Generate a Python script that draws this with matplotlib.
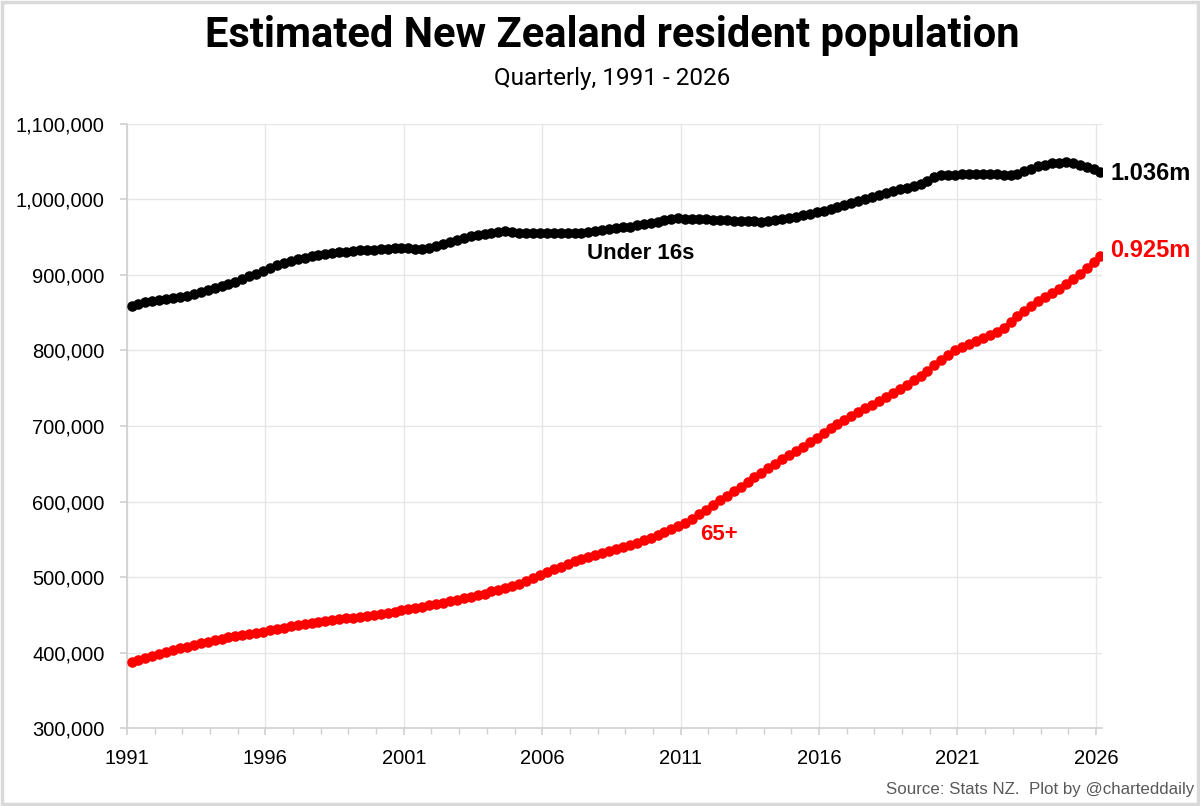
import numpy as np
import pandas as pd
import matplotlib
matplotlib.use("Agg")
import matplotlib.pyplot as plt
from matplotlib.patches import Rectangle
from matplotlib.ticker import FuncFormatter, MultipleLocator

# ---------------- data (thousands, quarterly Mar 1991 - Mar 2026) ----------------
quarters = pd.date_range("1991-03-01", "2026-03-01", freq="3MS")

under16 = [
    859.3, 861.5, 863.5, 865.5,
    867.0, 868.5, 869.8, 871.0,
    872.5, 874.5, 877.0, 879.5,
    882.3, 885.0, 888.0, 891.0,
    894.5, 898.0, 901.5, 905.0,
    909.0, 912.5, 915.5, 918.0,
    920.5, 922.5, 924.5, 926.0,
    927.5, 929.0, 930.0, 930.8,
    931.5, 932.3, 932.8, 933.3,
    934.0, 934.8, 935.5, 936.0,
    935.5, 934.5, 934.0, 935.5,
    938.0, 941.0, 943.5, 946.0,
    949.0, 951.5, 953.0, 954.5,
    955.8, 956.8, 957.5, 957.0,
    956.0, 955.5, 955.5, 955.3,
    955.0, 955.0, 955.0, 955.2,
    955.5, 956.0, 957.0, 958.0,
    959.0, 960.3, 961.5, 962.8,
    964.0, 965.5, 967.0, 968.3,
    970.0, 972.0, 974.0, 975.0,
    974.5, 974.4, 974.0, 973.5,
    973.0, 972.5, 972.0, 971.7,
    971.5, 971.7, 971.0, 970.5,
    971.0, 972.5, 974.0, 975.5,
    977.0, 979.0, 981.0, 983.0,
    985.0, 987.5, 990.0, 992.5,
    995.5, 998.0, 1000.5, 1003.0,
    1005.5, 1008.0, 1010.5, 1013.0,
    1014.5, 1017.0, 1020.0, 1024.0,
    1030.0, 1032.0, 1032.3, 1032.5,
    1033.0, 1033.2, 1033.0, 1033.3,
    1033.5, 1033.0, 1032.3, 1032.0,
    1033.5, 1037.0, 1040.5, 1044.0,
    1046.0, 1047.5, 1048.3, 1048.8,
    1047.5, 1045.5, 1042.5, 1039.5,
    1036.0,
]

over65 = [
    388.5, 391.0, 393.5, 396.0,
    398.5, 401.0, 403.5, 406.0,
    408.3, 410.5, 412.5, 414.5,
    416.5, 418.5, 420.5, 422.0,
    423.5, 425.0, 426.5, 428.0,
    429.8, 431.5, 433.5, 435.0,
    436.5, 438.0, 439.5, 440.8,
    442.0, 443.3, 444.5, 445.5,
    446.7, 447.9, 449.2, 450.5,
    451.8, 453.2, 454.7, 456.2,
    458.3, 459.8, 461.3, 462.8,
    464.3, 466.3, 468.5, 470.5,
    472.5, 474.5, 476.5, 478.5,
    481.3, 483.5, 485.5, 488.0,
    491.5, 495.0, 499.0, 503.0,
    507.5, 511.0, 514.0, 517.5,
    521.0, 524.0, 527.0, 529.5,
    532.0, 534.5, 537.0, 539.5,
    542.5, 545.5, 549.0, 552.0,
    556.0, 559.5, 563.5, 567.5,
    572.0, 577.5, 583.5, 589.5,
    596.0, 602.0, 608.0, 614.0,
    620.0, 626.0, 632.0, 638.0,
    644.0, 650.0, 656.0, 662.0,
    667.5, 673.0, 678.5, 684.0,
    691.0, 697.0, 702.5, 708.0,
    713.5, 718.5, 723.5, 728.5,
    733.5, 738.5, 744.0, 749.5,
    755.0, 760.5, 766.0, 773.0,
    781.0, 788.0, 794.0, 800.0,
    804.0, 808.0, 812.0, 816.0,
    820.0, 824.5, 830.0, 838.0,
    845.0, 852.0, 859.0, 865.5,
    870.5, 876.0, 882.0, 888.5,
    894.5, 901.5, 909.0, 917.0,
    925.0,
]

series_names = ["Under 16s", "65+"]
end_labels = ["1.036m", "0.925m"]
year_ticks = [1991, 1996, 2001, 2006, 2011, 2016, 2021, 2026]
title = "Estimated New Zealand resident population"
subtitle = "Quarterly, 1991 - 2026"
source = "Source: Stats NZ.  Plot by @charteddaily"

# ---------------- plotting ----------------
x = quarters.year + (quarters.month - 1) / 12.0
y16 = np.array(under16) * 1000
y65 = np.array(over65) * 1000

plt.rcParams["font.family"] = ["Liberation Sans", "DejaVu Sans"]

fig = plt.figure(figsize=(12, 8.06), dpi=100)
ax = fig.add_axes([0.1058, 0.0962, 0.8125, 0.7503])

ax.plot(x, y16, color="black", lw=2.6, marker="o", ms=7.6, mew=0, zorder=3)
ax.plot(x, y65, color="#FF0000", lw=2.6, marker="o", ms=7.6, mew=0, zorder=3)

ax.set_xlim(1991, 2026.22)
ax.set_ylim(300000, 1100000)
ax.set_xticks(year_ticks)
ax.set_xticklabels([str(t) for t in year_ticks])
ax.xaxis.set_minor_locator(MultipleLocator(1))
ax.yaxis.set_major_locator(MultipleLocator(100000))
ax.yaxis.set_major_formatter(FuncFormatter(lambda v, p: f"{int(v):,}"))

ax.grid(True, which="major", color="#E6E6E6", lw=1.0, zorder=0)
ax.set_axisbelow(True)
for s in ["top", "right"]:
    ax.spines[s].set_visible(False)
for s in ["left", "bottom"]:
    ax.spines[s].set_color("#D0D0D0")
    ax.spines[s].set_linewidth(1.2)

ax.tick_params(axis="y", which="major", length=5, width=1.2, color="#D0D0D0",
               labelsize=14.5, pad=11, labelcolor="black")
ax.tick_params(axis="x", which="major", length=5, width=1.2, color="#D0D0D0",
               labelsize=14.5, pad=10, labelcolor="black")
ax.tick_params(axis="x", which="minor", length=4, width=1.0, color="#D0D0D0")

# in-chart labels
ax.text(2009.55, 920900, series_names[0], ha="center", va="baseline",
        fontsize=16, fontweight="bold", color="black")
ax.text(2012.37, 549500, series_names[1], ha="center", va="baseline",
        fontsize=16, fontweight="bold", color="#FF0000")
ax.text(2026.52, 1025500, end_labels[0], ha="left", va="baseline",
        fontsize=17, fontweight="bold", color="black", clip_on=False)
ax.text(2026.52, 923600, end_labels[1], ha="left", va="baseline",
        fontsize=17, fontweight="bold", color="#FF0000", clip_on=False)

# titles
fig.text(0.510, 0.956, title, ha="center", va="center", fontsize=30,
         fontweight="bold", family=["Roboto", "DejaVu Sans"])
fig.text(0.510, 0.903, subtitle, ha="center", va="center", fontsize=17.5,
         family=["Roboto", "DejaVu Sans"])
fig.text(0.995, 0.0145, source, ha="right", va="baseline", fontsize=12.2,
         color="#595959")

fig.patches.append(Rectangle((0.0015, 0.002), 0.997, 0.996, transform=fig.transFigure,
                             fill=False, ec="#D9D9D9", lw=2.5))

fig.savefig("out.png", dpi=100)
